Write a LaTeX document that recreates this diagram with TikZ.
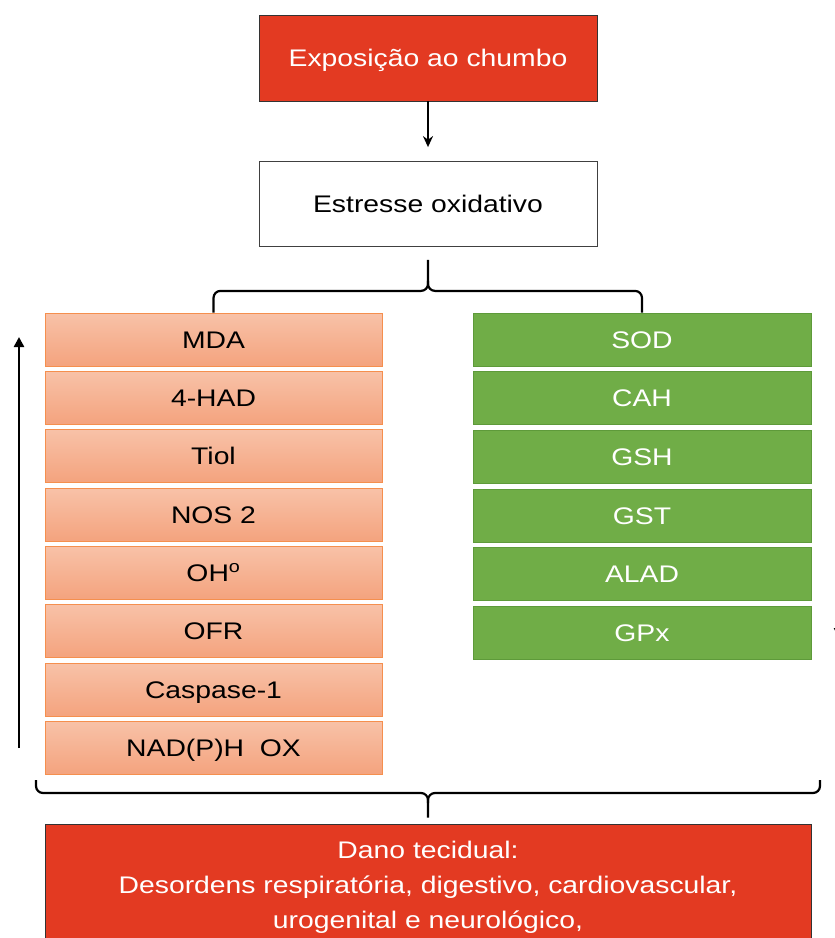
\documentclass[tikz,border=0pt]{standalone}
\usepackage{fontspec}
\setmainfont[FakeStretch=1.18]{Liberation Sans}
\usetikzlibrary{arrows.meta,calc}
\definecolor{leadred}{HTML}{E33A22}
\definecolor{oxgreen}{HTML}{70AD47}
\definecolor{oxgreenb}{HTML}{5E9A3A}
\definecolor{orangeb}{HTML}{F58F4E}
\definecolor{orangetop}{HTML}{F8C2A8}
\definecolor{orangebot}{HTML}{F4A37E}
\begin{document}
\begin{tikzpicture}[x=1pt,y=-1pt,
  txt/.style={font=\fontsize{24}{35}\selectfont,text height=17.2pt,text depth=0pt},
  redbox/.style={draw=black!80,line width=0.8pt,fill=leadred,text=white,
    minimum width=338pt,minimum height=86pt},
  whitebox/.style={draw=black!75,line width=0.8pt,fill=white,text=black,
    minimum width=338pt,minimum height=85pt},
  probox/.style={draw=orangeb,line width=0.9pt,top color=orangetop,bottom color=orangebot,
    minimum width=337pt,minimum height=53pt,text=black},
  antibox/.style={draw=oxgreenb,line width=0.9pt,fill=oxgreen,text=white,
    minimum width=338pt,minimum height=53pt},
  bracket/.style={draw=black,line width=2.2pt,rounded corners=7pt},
  flow/.style={draw=black,line width=1.8pt,-{Stealth[length=11pt,width=10pt]}},
  trend/.style={draw=black,line width=2.4pt,-{Triangle[length=10pt,width=10pt]}}]
\clip (0,0) rectangle (835,938);
\useasboundingbox (0,0) rectangle (835,938);

\node[redbox,txt] (top) at (428,58) {Exposição ao chumbo};
\node[whitebox,txt] (est) at (428,204) {Estresse oxidativo};

\node[probox,txt] (l1) at (213.5,339.5) {MDA};
\node[probox,txt] (l2) at (213.5,397.5) {4-HAD};
\node[probox,txt] (l3) at (213.5,455.5) {Tiol};
\node[probox,txt] (l4) at (213.5,514.5) {NOS 2};
\node[probox,txt] (l5) at (213.5,572.5) {OH\textsuperscript{o}};
\node[probox,txt] (l6) at (213.5,630.5) {OFR};
\node[probox,txt] (l7) at (213.5,689.5) {Caspase-1};
\node[probox,txt] (l8) at (213.5,747.5) {NAD(P)H\ \ OX};

\node[antibox,txt] (r1) at (642,339.5) {SOD};
\node[antibox,txt] (r2) at (642,397.5) {CAH};
\node[antibox,txt] (r3) at (642,456.5) {GSH};
\node[antibox,txt] (r4) at (642,515.5) {GST};
\node[antibox,txt] (r5) at (642,573.5) {ALAD};
\node[antibox,txt] (r6) at (642,633) {GPx};

\node[redbox,font=\fontsize{24}{35}\selectfont,align=center,
  minimum width=766pt,minimum height=126pt] (dano) at (428,887)
  {Dano tecidual:\\Desordens respiratória, digestivo, cardiovascular,\\urogenital e neurológico,};

% arrow top -> est
\draw[flow,shorten >=14pt] (top.south) -- (est.north);

% upper brace
\coordinate (bt) at ($(est.south)+(0,13)$);
\coordinate (bm) at ($(est.south)+(0,44)$);
\draw[bracket] (bt) -- (bm) -- (bm -| l1.north) -- (l1.north);
\draw[bracket] ($(bm)+(0,-10)$) -- (bm) -- (bm -| r1.north) -- (r1.north);

% lower brace
\coordinate (lb) at (36,780);
\coordinate (rb) at (820,780);
\coordinate (cm) at (428,793);
\draw[bracket] (lb) -- (lb |- cm) -- (cm) -- ($(dano.north)+(0,-6)$);
\draw[bracket] (rb) -- (rb |- cm) -- (cm) -- ($(cm)+(0,10)$);

% trend arrows
\coordinate (ua0) at (19,748);
\coordinate (ua1) at (19,337);
\draw[trend] (ua0) -- (ua1);
\coordinate (da0) at (839,338);
\coordinate (da1) at (839,638);
\draw[trend] (da0) -- (da1);
\end{tikzpicture}
\end{document}
